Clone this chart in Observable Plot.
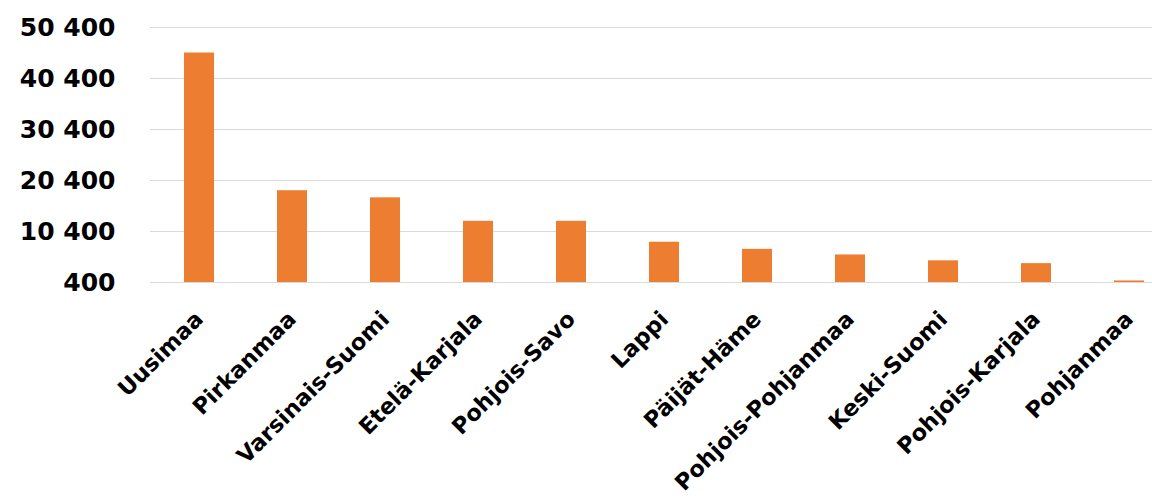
<!DOCTYPE html>
<html>
<head>
<meta charset="utf-8">
<script src="https://cdn.jsdelivr.net/npm/d3@7"></script>
<script src="https://cdn.jsdelivr.net/npm/@observablehq/plot@0.6"></script>
<style>
  html, body { margin: 0; padding: 0; background: #fff; overflow: hidden; }
  #chart svg { display: block; }
</style>
</head>
<body>
<div id="chart"></div>
<script>
const regions = ["Uusimaa", "Pirkanmaa", "Varsinais-Suomi", "Etelä-Karjala", "Pohjois-Savo", "Lappi", "Päijät-Häme", "Pohjois-Pohjanmaa", "Keski-Suomi", "Pohjois-Karjala", "Pohjanmaa"];
const values = [45400, 18400, 17000, 12400, 12400, 8300, 6900, 5800, 4650, 4100, 700];
const yTicks = [400, 10400, 20400, 30400, 40400, 50400];
const yMin = 400;
const yMax = 50400;

const data = regions.map((r, i) => ({region: r, value: values[i]}));
const fmt = d => d3.format(",")(d).replace(/,/g, " ");

const chart = Plot.plot({
  width: 1152,
  height: 503,
  marginLeft: 150,
  marginRight: 0,
  marginTop: 27,
  marginBottom: 221,
  style: {fontFamily: "'DejaVu Sans', sans-serif", fontWeight: "bold", color: "#000", background: "#fff"},
  x: {domain: regions, range: [150, 1178], paddingInner: 0.68, paddingOuter: 0.34, label: null},
  y: {domain: [yMin, yMax], label: null},
  marks: [
    Plot.ruleY(yTicks, {stroke: "#d9d9d9", strokeWidth: 1.2}),
    Plot.barY(data, {x: "region", y1: yMin, y2: "value", fill: "#ED7D31"}),
    Plot.axisY({ticks: yTicks, tickFormat: fmt, tickSize: 0, tickPadding: 35, fontSize: 25, label: null}),
    Plot.axisX({tickSize: 0, tickPadding: 33, tickRotate: -45, fontSize: 22.5, label: null})
  ]
});
document.getElementById("chart").appendChild(chart);
</script>
</body>
</html>
